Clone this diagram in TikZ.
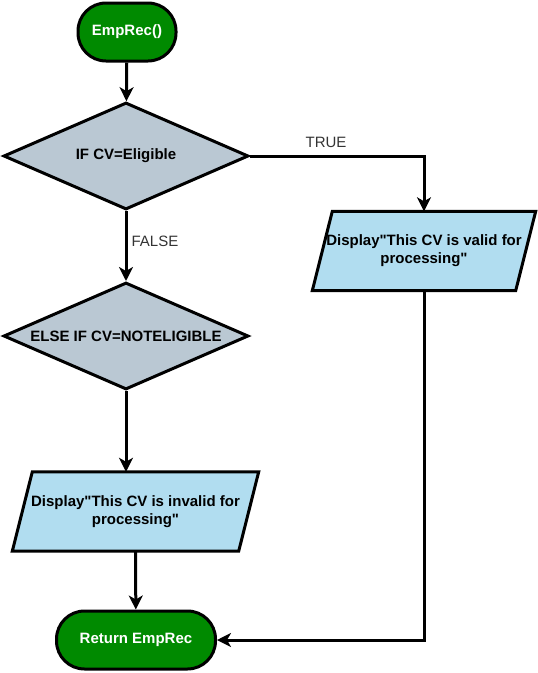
\documentclass[tikz,border=0pt]{standalone}
\usepackage{fontspec}
\setmainfont{Liberation Sans}[Ligatures=TeXOff]
\usetikzlibrary{shapes.geometric,arrows.meta,backgrounds}
\definecolor{termgreen}{HTML}{008A00}
\definecolor{decfill}{HTML}{BAC8D3}
\definecolor{iofill}{HTML}{B1DDF0}
\definecolor{lblgray}{HTML}{333333}
\begin{document}
\begin{tikzpicture}[x=1pt,y=-1pt,
  every node/.style={font=\fontsize{15}{18}\selectfont\bfseries},
  terminal/.style={draw=black, line width=3pt, fill=termgreen, text=white, rounded corners=28pt, minimum height=58pt, inner sep=0pt},
  decision/.style={diamond, aspect=2.3, draw=black, line width=3pt, fill=decfill, inner sep=0pt, minimum width=245pt, minimum height=107pt},
  iobox/.style={draw=none, minimum height=79pt, inner sep=0pt, align=center},
  ioshape/.style={draw=black, line width=3pt, fill=iofill},
  flow/.style={line width=3pt, -{Stealth[length=14pt,width=14pt,inset=4pt]}},
  edgelbl/.style={font=\fontsize{15}{18}\selectfont, text=lblgray}
]
\useasboundingbox (0,0) rectangle (538,673);

\node[terminal, minimum width=98pt] (start) at (127,32) {EmpRec()};
\node[decision] (d1) at (126,156) {IF CV=Eligible};
\node[decision] (d2) at (126,336) {ELSE IF CV=NOTELIGIBLE};
\node[iobox, minimum width=246pt] (p1) at (135.5,511.5) {Display"This CV is invalid for\\processing"};
\node[iobox, minimum width=223pt] (p2) at (424,251) {Display"This CV is valid for\\processing"};
\node[terminal, minimum width=159pt] (endterm) at (136,640) {Return EmpRec};

\begin{scope}[on background layer]
\draw[ioshape] ([xshift=20pt]p1.north west) -- (p1.north east) -- ([xshift=-20pt]p1.south east) -- (p1.south west) -- cycle;
\draw[ioshape] ([xshift=20pt]p2.north west) -- (p2.north east) -- ([xshift=-20pt]p2.south east) -- (p2.south west) -- cycle;
\end{scope}

\draw[flow] (start) -- (d1);
\draw[flow] (d1.east) -| (p2.north);
\node[edgelbl] (ltrue) at (326,142) {TRUE};
\draw[flow] (d1.south) -- (d2.north);
\node[edgelbl] (lfalse) at (155,241) {FALSE};
\draw[flow] (d2.south) -- (d2.south |- p1.north);
\draw[flow] (p1.south) -- (endterm);
\draw[flow] (p2.south) |- (endterm.east);
\end{tikzpicture}
\end{document}
